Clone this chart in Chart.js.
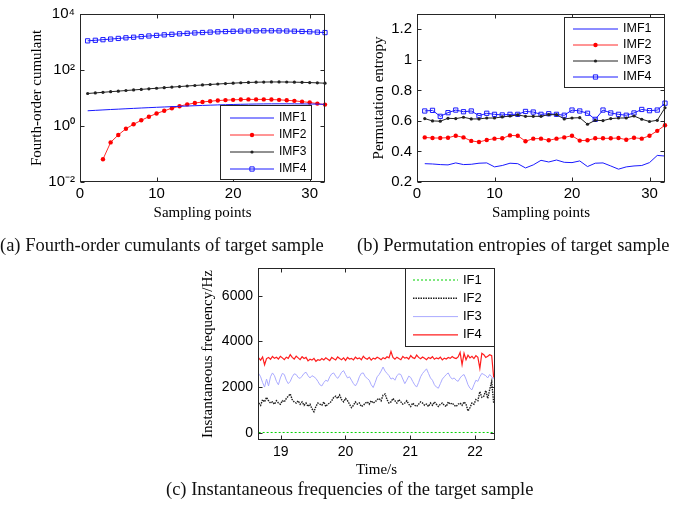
<!DOCTYPE html>
<html>
<head>
<meta charset="utf-8">
<script src="https://cdn.jsdelivr.net/npm/chart.js@4.4.0/dist/chart.umd.min.js"></script>
<style>
  body { margin: 0; background: #fff; width: 685px; height: 507px; position: relative; overflow: hidden; }
  canvas { position: absolute; }
  .cap { position: absolute; font-family: "Liberation Serif", "Times New Roman", serif; font-size: 18.5px; color: #111; white-space: nowrap; line-height: 21px; }
</style>
</head>
<body>
<canvas id="cum" width="340" height="230" style="left:0;top:0"></canvas>
<canvas id="pe" width="345" height="230" style="left:340px;top:0"></canvas>
<canvas id="inf" width="340" height="232" style="left:170px;top:250px"></canvas>
<div class="cap" style="left:0;top:235px">(a) Fourth-order cumulants of target sample</div>
<div class="cap" style="left:357px;top:235px">(b) Permutation entropies of target sample</div>
<div class="cap" style="left:166px;top:479px">(c) Instantaneous frequencies of the target sample</div>
<script>
// sampling points 1..32 for (a) and (b)
const samplePoints = [1, 2, 3, 4, 5, 6, 7, 8, 9, 10, 11, 12, 13, 14, 15, 16,
  17, 18, 19, 20, 21, 22, 23, 24, 25, 26, 27, 28, 29, 30, 31, 32];

// (a) fourth-order cumulants (log scale)
const cumIMF1 = [3.5, 3.62, 3.75, 3.88, 4.0, 4.13, 4.26, 4.39, 4.52, 4.65, 4.78, 4.91, 5.04, 5.17, 5.3, 5.43,
  5.55, 5.66, 5.77, 5.87, 5.96, 6.04, 6.1, 6.15, 6.18, 6.2, 6.2, 6.18, 6.15, 6.1, 6.03, 5.95];
const cumIMF2 = [null, null, 0.065, 0.26, 0.48, 0.8, 1.15, 1.6, 2.15, 2.8, 3.5, 4.3, 5.1, 5.9, 6.6, 7.2,
  7.7, 8.1, 8.4, 8.6, 8.8, 8.9, 8.9, 8.9, 8.8, 8.6, 8.3, 7.9, 7.4, 6.9, 6.3, 5.8];
const cumIMF3 = [14.5, 15.2, 16.0, 16.8, 17.6, 18.5, 19.4, 20.3, 21.3, 22.3, 23.4, 24.5, 25.6, 26.8, 28.0, 29.2,
  30.4, 31.6, 32.8, 33.9, 35.0, 35.9, 36.6, 37.1, 37.4, 37.4, 37.2, 36.8, 36.2, 35.5, 34.7, 33.8];
const cumIMF4 = [1100, 1150, 1210, 1270, 1340, 1410, 1480, 1560, 1640, 1720, 1800, 1880, 1960, 2040, 2110, 2180,
  2250, 2310, 2360, 2410, 2450, 2480, 2500, 2510, 2510, 2500, 2470, 2430, 2380, 2320, 2250, 2170];
const cumTicks = [0.01, 1, 100, 10000];
const cumTickLabels = ['10⁻²', '10⁰', '10²', '10⁴'];
const sampleTicks = [0, 10, 20, 30];

// (b) permutation entropies
const peIMF1 = [0.320, 0.318, 0.314, 0.312, 0.325, 0.314, 0.316, 0.323, 0.325, 0.299, 0.308, 0.323, 0.320, 0.292, 0.312, 0.342,
  0.331, 0.344, 0.329, 0.327, 0.338, 0.301, 0.323, 0.325, 0.305, 0.284, 0.299, 0.305, 0.308, 0.327, 0.374, 0.370];
const peIMF2 = [0.492, 0.488, 0.488, 0.490, 0.503, 0.492, 0.469, 0.462, 0.475, 0.484, 0.486, 0.505, 0.503, 0.467, 0.484, 0.484,
  0.473, 0.484, 0.492, 0.503, 0.471, 0.473, 0.486, 0.486, 0.486, 0.488, 0.477, 0.490, 0.484, 0.503, 0.535, 0.572];
const peIMF3 = [0.615, 0.600, 0.598, 0.617, 0.615, 0.624, 0.613, 0.613, 0.619, 0.619, 0.626, 0.632, 0.639, 0.630, 0.630, 0.630,
  0.641, 0.641, 0.613, 0.619, 0.621, 0.578, 0.604, 0.602, 0.615, 0.619, 0.619, 0.632, 0.611, 0.596, 0.604, 0.686];
const peIMF4 = [0.665, 0.669, 0.630, 0.654, 0.671, 0.660, 0.665, 0.634, 0.650, 0.643, 0.639, 0.643, 0.643, 0.662, 0.658, 0.643,
  0.647, 0.643, 0.637, 0.671, 0.665, 0.650, 0.610, 0.671, 0.652, 0.643, 0.637, 0.652, 0.675, 0.667, 0.671, 0.716];
const peTicks = [0.2, 0.4, 0.6, 0.8, 1, 1.2];
const peTickLabels = ['0.2', '0.4', '0.6', '0.8', '1', '1.2'];

// (c) instantaneous frequencies, sampled every ifStep seconds from ifStart
const ifStart = 18.66;
const ifStep = 0.0305;
const if1Times = [18.66, 19.5, 20.5, 21.5, 22.29];
const if1 = [10, 10, 10, 10, 10];
const if2 = [1300, 1200, 1450, 1350, 1550, 1400, 1300, 1350, 1250, 1400,
  1300, 1250, 1400, 1350, 1500, 1600, 1700, 1450, 1350, 1300,
  1400, 1250, 1350, 1200, 1300, 1150, 1250, 1050, 920, 1150,
  1300, 1250, 1200, 1350, 1150, 1250, 1300, 1400, 1550, 1600,
  1500, 1650, 1450, 1350, 1500, 1400, 1250, 1100, 1200, 1350,
  1250, 1300, 1150, 1200, 1300, 1350, 1250, 1400, 1300, 1350,
  1450, 1500, 1400, 1650, 1700, 1450, 1300, 1350, 1500, 1400,
  1300, 1450, 1350, 1250, 1300, 1400, 1250, 1150, 1300, 1200,
  1150, 1250, 1350, 1300, 1200, 1250, 1150, 1300, 1200, 1350,
  1250, 1150, 1250, 1300, 1200, 1150, 1350, 1250, 1300, 1200,
  1150, 1250, 1300, 1200, 1350, 1250, 950, 1100, 1300, 1250,
  1450, 1400, 1800, 1550, 1600, 1850, 1500, 1900, 2250, 1300];
const if3 = [2600, 2450, 2200, 2000, 2350, 2050, 2450, 2620, 2500, 2250,
  2100, 2400, 2600, 2550, 2300, 2150, 2250, 2450, 2580, 2550,
  2420, 2380, 2480, 2600, 2650, 2500, 2400, 2500, 2450, 2380,
  2250, 2100, 2050, 2200, 2300, 2250, 2450, 2580, 2620, 2480,
  2380, 2500, 2650, 2720, 2550, 2400, 2450, 2300, 2150, 2050,
  2200, 2450, 2600, 2620, 2450, 2380, 2300, 2100, 1980, 2200,
  2450, 2550, 2700, 2880, 2700, 2600, 2500, 2350, 2400, 2300,
  2500, 2580, 2550, 2350, 2150, 2300, 2480, 2420, 2250, 2100,
  2000, 2200, 2450, 2600, 2700, 2800, 2600, 2400, 2300, 2100,
  2000, 1950, 2150, 2350, 2450, 2550, 2620, 2450, 2350, 2400,
  2300, 2250, 2400, 2500, 2550, 2350, 2100, 1950, 1880, 2100,
  2300, 2250, 2450, 2600, 2550, 2500, 2400, 2550, 2450, 2350];
const if4 = [3280, 3180, 3320, 2980, 3250, 3300, 3220, 3340, 3260, 3310,
  3230, 3350, 3280, 3200, 3310, 3260, 3420, 3300, 3230, 3360,
  3280, 3200, 3330, 3250, 3300, 3150, 3220, 3180, 3260, 3130,
  3200, 3170, 3250, 3190, 3280, 3220, 3160, 3300, 3240, 3190,
  3320, 3250, 3200, 3280, 3170, 3300, 3230, 3260, 3190, 3310,
  3240, 3280, 3200, 3350, 3260, 3220, 3300, 3180, 3270, 3230,
  3310, 3260, 3200, 3290, 3240, 3330, 3280, 3560, 3300, 3220,
  3310, 3250, 3200, 3340, 3270, 3300, 3230, 3380, 3290, 3250,
  3400, 3300, 3240, 3320, 3260, 3200, 3300, 3250, 3330, 3220,
  3280, 3240, 3310, 3190, 3270, 3230, 3300, 3260, 3340, 3280,
  3250, 3320, 3520, 2980, 3480, 3200, 3400, 3280, 3350, 3250,
  3380, 3300, 2820, 3480, 3420, 3300, 3350, 3420, 3380, 2420];
const ifTicksX = [19, 20, 21, 22];
const ifTicksY = [0, 2000, 4000, 6000];

const ifTimes = if4.map((_, i) => +(ifStart + i * ifStep).toFixed(4));
const pts = (xs, ys) => xs.map((x, i) => ({ x: x, y: ys[i] }));

const SANS = 'Liberation Sans, Arial, sans-serif';
const SERIF = 'Liberation Serif, Times New Roman, serif';
const AXIS = '#262626';

// box round the plot with inward ticks, like the original figure
const frame = {
  id: 'frame',
  afterDatasetsDraw(chart) {
    const { ctx, chartArea: a, scales } = chart;
    const L = Math.round(a.left) + 0.5, R = Math.round(a.right) - 0.5;
    const T = Math.round(a.top) + 0.5, B = Math.round(a.bottom) - 0.5;
    ctx.save();
    ctx.strokeStyle = AXIS;
    ctx.lineWidth = 1;
    ctx.strokeRect(L, T, R - L, B - T);
    ctx.beginPath();
    scales.x.ticks.forEach(t => {
      const p = Math.round(scales.x.getPixelForValue(t.value)) + 0.5;
      ctx.moveTo(p, B); ctx.lineTo(p, B - 4);
      ctx.moveTo(p, T); ctx.lineTo(p, T + 4);
    });
    scales.y.ticks.forEach(t => {
      const p = Math.round(scales.y.getPixelForValue(t.value)) + 0.5;
      ctx.moveTo(L, p); ctx.lineTo(L + 4, p);
      ctx.moveTo(R, p); ctx.lineTo(R - 4, p);
    });
    ctx.stroke();
    ctx.restore();
  }
};

// legend drawn inside the axes in a bordered box
const insetLegend = {
  id: 'insetLegend',
  afterDraw(chart, args, o) {
    if (!o.box) return;
    const ctx = chart.ctx;
    const [bx, by, bw, bh] = o.box;
    ctx.save();
    ctx.fillStyle = '#fff';
    ctx.fillRect(bx, by, bw, bh);
    ctx.strokeStyle = AXIS;
    ctx.lineWidth = 1;
    ctx.strokeRect(bx + 0.5, by + 0.5, bw - 1, bh - 1);
    ctx.font = o.font;
    ctx.textBaseline = 'middle';
    chart.data.datasets.forEach((ds, i) => {
      const y = o.rowY + i * o.rowGap;
      ctx.strokeStyle = ds.borderColor;
      ctx.lineWidth = ds.borderWidth;
      ctx.setLineDash(ds.borderDash || []);
      ctx.beginPath();
      ctx.moveTo(o.lineX[0], y);
      ctx.lineTo(o.lineX[1], y);
      ctx.stroke();
      ctx.setLineDash([]);
      if (ds.pointRadius > 0) {
        ctx.fillStyle = ds.pointBackgroundColor;
        ctx.strokeStyle = ds.pointBorderColor || ds.borderColor;
        ctx.lineWidth = ds.pointBorderWidth || 0;
        Chart.helpers.drawPoint(ctx, { pointStyle: ds.pointStyle, radius: ds.pointRadius,
          borderWidth: ds.pointBorderWidth || 0, rotation: 0 }, (o.lineX[0] + o.lineX[1]) / 2, y);
      }
      ctx.fillStyle = '#000';
      ctx.fillText(ds.label, o.textX, y);
    });
    ctx.restore();
  }
};

function axis(cfg) {
  return {
    type: cfg.type || 'linear',
    min: cfg.min, max: cfg.max,
    grid: { display: false, drawTicks: false },
    border: { display: false },
    afterBuildTicks(s) { s.ticks = cfg.ticks.map(v => ({ value: v })); },
    afterFit(s) { if (cfg.width) s.width = cfg.width; if (cfg.height) s.height = cfg.height; },
    ticks: {
      autoSkip: false, maxRotation: 0, padding: cfg.tickPad, color: '#000',
      font: { family: SANS, size: cfg.tickSize },
      callback: (v, i) => cfg.labels ? cfg.labels[i] : String(v)
    },
    title: {
      display: true, text: cfg.title, color: '#000',
      font: { family: SERIF, size: 15 },
      padding: cfg.titlePad
    }
  };
}

function imfSets(s1, s2, s3, s4) {
  return [
    { label: 'IMF1', data: pts(samplePoints, s1), borderColor: '#1a1aff', borderWidth: 1, pointRadius: 0 },
    { label: 'IMF2', data: pts(samplePoints, s2), borderColor: '#ff2a2a', borderWidth: 1, pointStyle: 'circle',
      pointRadius: 2.2, pointBackgroundColor: '#ff0000', pointBorderColor: '#ff0000', pointBorderWidth: 0 },
    { label: 'IMF3', data: pts(samplePoints, s3), borderColor: '#222', borderWidth: 1, pointStyle: 'circle',
      pointRadius: 1.6, pointBackgroundColor: '#222', pointBorderColor: '#222', pointBorderWidth: 0 },
    { label: 'IMF4', data: pts(samplePoints, s4), borderColor: '#1a1aff', borderWidth: 1, pointStyle: 'rect',
      pointRadius: 3, pointBackgroundColor: 'rgba(255,255,255,0)', pointBorderColor: '#1a1aff', pointBorderWidth: 1 }
  ].map(d => Object.assign(d, { clip: 6, spanGaps: false }));
}

function options(pad, legend, x, y) {
  return {
    responsive: false, animation: false, devicePixelRatio: 1,
    layout: { padding: pad },
    elements: { line: { tension: 0 } },
    plugins: { legend: { display: false }, tooltip: { enabled: false }, insetLegend: legend },
    scales: { x: x, y: y }
  };
}

new Chart(document.getElementById('cum'), {
  type: 'line',
  data: { datasets: imfSets(cumIMF1, cumIMF2, cumIMF3, cumIMF4) },
  options: options({ top: 12, right: 15, left: 0, bottom: 0 },
    { box: [220, 105, 92, 75], rowY: 118, rowGap: 17, lineX: [230, 274], textX: 279, font: '12px ' + SANS },
    axis({ min: 0, max: 32, ticks: sampleTicks, height: 48, tickPad: 3, tickSize: 15,
      title: 'Sampling points', titlePad: { top: 0, bottom: 8 } }),
    axis({ type: 'logarithmic', min: 0.01, max: 10000, ticks: cumTicks, labels: cumTickLabels, width: 80,
      tickPad: 5, tickSize: 15, title: 'Fourth-order cumulant', titlePad: { top: 28, bottom: 0 } })),
  plugins: [frame, insetLegend]
});

new Chart(document.getElementById('pe'), {
  type: 'line',
  data: { datasets: imfSets(peIMF1, peIMF2, peIMF3, peIMF4) },
  options: options({ top: 12, right: 20, left: 0, bottom: 0 },
    { box: [224, 17, 101, 71], rowY: 29, rowGap: 16, lineX: [233, 278], textX: 283, font: '12.5px ' + SANS },
    axis({ min: 0, max: 32, ticks: sampleTicks, height: 48, tickPad: 3, tickSize: 15,
      title: 'Sampling points', titlePad: { top: 0, bottom: 8 } }),
    axis({ min: 0.2, max: 1.3, ticks: peTicks, labels: peTickLabels, width: 77,
      tickPad: 5, tickSize: 15, title: 'Permutation entropy', titlePad: { top: 30, bottom: 0 } })),
  plugins: [frame, insetLegend]
});

new Chart(document.getElementById('inf'), {
  type: 'line',
  data: {
    datasets: [
      { label: 'IF1', data: pts(if1Times, if1), borderColor: 'rgb(0,210,0)', borderWidth: 1, borderDash: [2, 2], pointRadius: 0 },
      { label: 'IF2', data: pts(ifTimes, if2), borderColor: '#1e1e1e', borderWidth: 1.4, borderDash: [1.5, 1], pointRadius: 0 },
      { label: 'IF3', data: pts(ifTimes, if3), borderColor: 'rgb(170,170,255)', borderWidth: 1, pointRadius: 0 },
      { label: 'IF4', data: pts(ifTimes, if4), borderColor: 'rgb(255,30,30)', borderWidth: 1.2, pointRadius: 0 }
    ]
  },
  options: options({ top: 18, right: 15, left: 0, bottom: 0 },
    { box: [235, 18, 90, 79], rowY: 30, rowGap: 18.3, lineX: [243, 288], textX: 293, font: '13px ' + SANS },
    axis({ min: 18.65, max: 22.31, ticks: ifTicksX, height: 42, tickPad: 4, tickSize: 14,
      title: 'Time/s', titlePad: { top: 0, bottom: 3 } }),
    axis({ min: -320, max: 7220, ticks: ifTicksY, width: 88,
      tickPad: 5, tickSize: 14, title: 'Instantaneous frequency/Hz', titlePad: { top: 29, bottom: 0 } })),
  plugins: [frame, insetLegend]
});
</script>
</body>
</html>
